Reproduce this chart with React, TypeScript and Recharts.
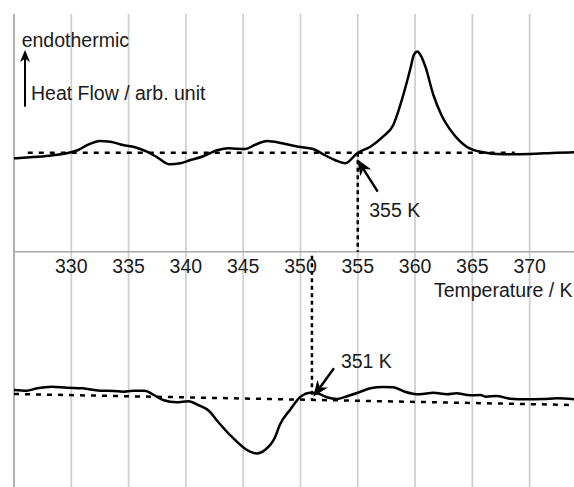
import { LineChart, Line, XAxis, YAxis, ReferenceLine, ReferenceDot } from 'recharts';

// DSC traces, temperature in K, heat flow in arbitrary units (endo up)
const heatingTemp = [325.0, 326.4, 328.1, 329.6, 330.6, 331.3, 332.5, 333.4, 334.5, 335.7, 336.6, 337.5, 338.6, 339.5, 340.4, 341.4, 342.8, 343.7, 345.2, 346.0, 347.1, 348.4, 349.8, 351.1, 352.1, 353.0, 353.9, 355.0, 356.1, 357.2, 358.1, 358.8, 359.6, 359.9, 360.2, 360.5, 360.9, 361.6, 362.3, 363.3, 364.5, 365.7, 367.7, 370.0, 372.4, 373.9];
const heatingFlow = [9.34, 9.44, 9.6, 9.84, 10.17, 10.6, 11.07, 11.0, 10.67, 10.4, 10.0, 9.44, 8.74, 8.84, 9.17, 9.5, 10.17, 10.34, 10.27, 10.67, 11.07, 10.84, 10.5, 10.27, 9.67, 9.17, 8.84, 9.9, 10.5, 11.5, 12.67, 15.0, 18.34, 19.7, 20.02, 19.6, 18.5, 15.67, 13.67, 11.84, 10.5, 10.0, 9.74, 9.77, 9.9, 9.94];

const coolingTemp = [325.0, 326.1, 327.0, 328.3, 329.6, 331.0, 332.5, 333.7, 334.5, 335.4, 336.4, 337.2, 338.0, 339.2, 340.2, 341.2, 342.0, 342.8, 344.0, 345.2, 346.2, 346.9, 347.8, 348.2, 349.1, 350.0, 350.9, 351.6, 352.3, 353.2, 354.2, 355.0, 356.1, 357.2, 358.1, 359.1, 360.4, 361.6, 362.8, 363.6, 364.8, 365.7, 366.2, 367.1, 368.3, 369.7, 371.2, 372.4, 373.9];
const coolingFlow = [-13.83, -13.9, -13.66, -13.5, -13.6, -13.66, -13.9, -13.93, -14.0, -13.9, -13.9, -14.33, -14.83, -15.06, -14.95, -15.4, -15.9, -17.0, -18.5, -19.73, -20.18, -19.83, -18.5, -17.3, -15.8, -14.5, -14.1, -14.2, -14.55, -14.72, -14.4, -14.1, -13.66, -13.52, -13.56, -14.0, -14.26, -14.1, -14.26, -14.16, -14.36, -14.33, -14.5, -14.43, -14.7, -14.76, -14.73, -14.66, -14.76];

const tempTicks = [330, 335, 340, 345, 350, 355, 360, 365, 370];
const gridTemps = [325, ...tempTicks];

// onset constructions
const heatingBase = 9.9;
const coolingBaseStart = -14.23;
const coolingBaseEnd = -15.33;
const heatingOnset = 355;
const coolingOnset = 351;

const heatingData = heatingTemp.map((t, i) => ({ t, hf: heatingFlow[i] }));
const coolingData = coolingTemp.map((t, i) => ({ t, hf: coolingFlow[i] }));

const FONT = '"Liberation Sans", Arial, sans-serif';
const labelStyle = { fontSize: 19.5, fill: '#1a1a1a', fontFamily: FONT };

// line from (x1,y1) to an arrowhead at (x2,y2)
function Arrow(props: any) {
  const { x1, y1, x2, y2, head = 15, spread = 12, width = 2.5 } = props;
  const len = Math.hypot(x2 - x1, y2 - y1) || 1;
  const ux = (x2 - x1) / len;
  const uy = (y2 - y1) / len;
  const nx = -uy;
  const ny = ux;
  const bx = x2 - ux * head;
  const by = y2 - uy * head;
  const mx = x2 - ux * head * 0.72;
  const my = y2 - uy * head * 0.72;
  const pts = [
    [x2, y2],
    [bx + (nx * spread) / 2, by + (ny * spread) / 2],
    [mx, my],
    [bx - (nx * spread) / 2, by - (ny * spread) / 2],
  ]
    .map((p) => p.join(','))
    .join(' ');
  return (
    <g>
      <line x1={x1} y1={y1} x2={mx} y2={my} stroke="#000" strokeWidth={width} />
      <polygon points={pts} fill="#000" />
    </g>
  );
}

export default function App() {
  const endoArrow = (p: any) => <Arrow {...p} head={12} spread={10} width={2} />;
  const onsetArrow = (p: any) => <Arrow {...p} head={16} spread={13} width={2.5} />;

  return (
    <div style={{ position: 'absolute', left: 0, top: 0 }}>
      <LineChart width={574} height={487} margin={{ top: 14, right: 0, bottom: 0, left: 14 }}>
        <XAxis type="number" dataKey="t" domain={[325, 373.87]} hide allowDataOverflow />
        <YAxis type="number" domain={[-23.53, 23.77]} hide allowDataOverflow />

        {gridTemps.map((t) => (
          <ReferenceLine key={t} x={t} stroke={t === 325 ? '#a8a8a8' : '#d0d0d0'} strokeWidth={1.8} />
        ))}
        <ReferenceLine y={0} stroke="#a8a8a8" strokeWidth={1.6} />

        {tempTicks.map((t) => (
          <ReferenceDot key={`lbl${t}`} x={t} y={-1.4} r={0} stroke="none" label={{ value: String(t), position: 'center', ...labelStyle }} />
        ))}
        <ReferenceDot x={373.75} y={-3.83} r={0} stroke="none" label={{ value: 'Temperature / K', position: 'left', offset: 0, ...labelStyle }} />

        {/* baselines */}
        <ReferenceLine segment={[{ x: 326.2, y: heatingBase }, { x: 368.7, y: heatingBase }]} stroke="#000" strokeWidth={2.5} strokeDasharray="5 6" />
        <ReferenceLine segment={[{ x: 325, y: coolingBaseStart }, { x: 373.87, y: coolingBaseEnd }]} stroke="#000" strokeWidth={2.5} strokeDasharray="5 6" />

        {/* onset drop lines */}
        <ReferenceLine segment={[{ x: heatingOnset, y: heatingBase }, { x: heatingOnset, y: 0 }]} stroke="#000" strokeWidth={2.5} strokeDasharray="4 3.5" />
        <ReferenceLine segment={[{ x: coolingOnset, y: -0.4 }, { x: coolingOnset, y: -14.81 }]} stroke="#000" strokeWidth={2.5} strokeDasharray="4 3.5" />

        <Line data={heatingData} dataKey="hf" type="monotone" stroke="#000" strokeWidth={2.5} dot={false} isAnimationActive={false} />
        <Line data={coolingData} dataKey="hf" type="monotone" stroke="#000" strokeWidth={2.5} dot={false} isAnimationActive={false} />

        {/* annotations */}
        <ReferenceLine segment={[{ x: 325.96, y: 14.5 }, { x: 325.96, y: 20.17 }]} shape={endoArrow} />
        <ReferenceDot x={325.67} y={21.17} r={0} stroke="none" label={{ value: 'endothermic', position: 'right', offset: 0, ...labelStyle }} />
        <ReferenceDot x={326.48} y={15.84} r={0} stroke="none" label={{ value: 'Heat Flow / arb. unit', position: 'right', offset: 0, ...labelStyle }} />

        <ReferenceLine segment={[{ x: 356.74, y: 6.0 }, { x: 354.96, y: 9.24 }]} shape={onsetArrow} />
        <ReferenceDot x={356.0} y={4.17} r={0} stroke="none" label={{ value: `${heatingOnset} K`, position: 'right', offset: 0, ...labelStyle }} />

        <ReferenceLine segment={[{ x: 352.92, y: -11.66 }, { x: 351.11, y: -14.5 }]} shape={onsetArrow} />
        <ReferenceDot x={353.53} y={-10.93} r={0} stroke="none" label={{ value: `${coolingOnset} K`, position: 'right', offset: 0, ...labelStyle }} />
      </LineChart>
    </div>
  );
}
